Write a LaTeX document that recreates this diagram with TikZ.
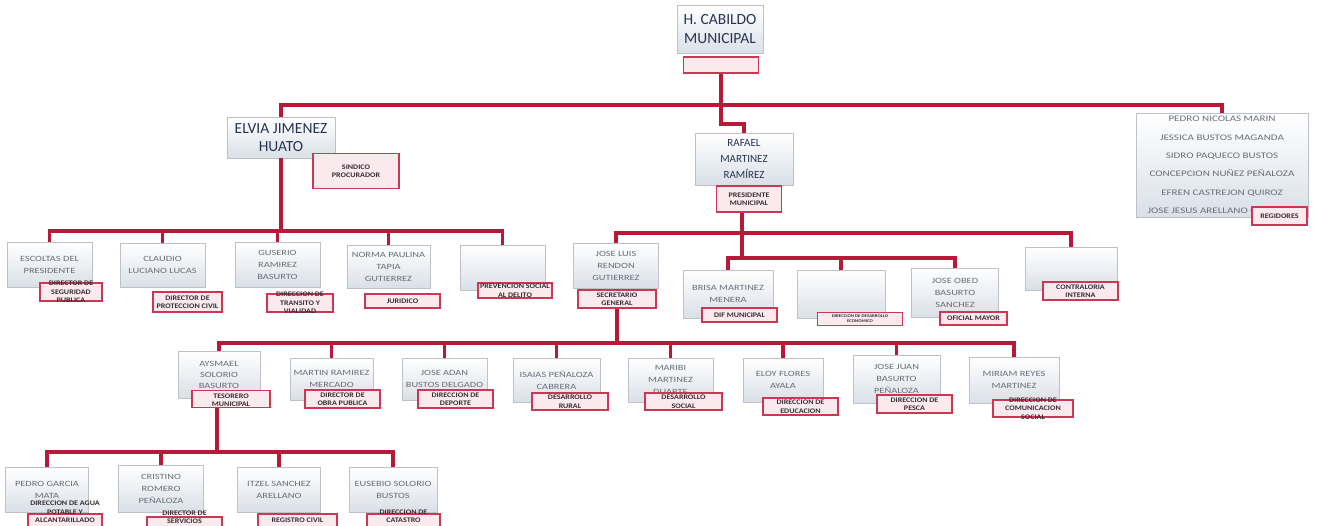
\documentclass[tikz,border=0pt]{standalone}
\usepackage{fontspec}
\setmainfont{Carlito}
\newfontfamily\widefont[FakeStretch=1.3]{Carlito}
\newfontfamily\pinkfont[FakeStretch=1.15]{Carlito}
\definecolor{lnred}{RGB}{182,26,56}
\definecolor{pkborder}{RGB}{205,55,85}
\definecolor{pkfill}{RGB}{250,234,238}
\definecolor{pktext}{RGB}{55,45,50}
\definecolor{txgray}{RGB}{105,110,120}
\definecolor{navy}{RGB}{40,52,85}
\definecolor{boxedge}{RGB}{190,193,200}
\definecolor{boxbot}{RGB}{218,224,232}
\tikzset{
  wbox/.style={draw=boxedge, line width=0.7pt, top color=white, bottom color=boxbot,
    inner sep=0pt, align=center, text=txgray, font=\widefont\fontsize{8}{12}\selectfont},
  bigbox/.style={wbox, text=navy, font=\fontsize{15.5}{18.5}\selectfont},
  midbox/.style={wbox, text=navy, font=\fontsize{11}{16}\selectfont},
  regbox/.style={wbox, font=\widefont\fontsize{8.5}{18.3}\selectfont},
  pbox/.style={draw=pkborder, line width=1.3pt, fill=pkfill, inner sep=0pt},
  ptext/.style={align=center, text=pktext, inner sep=0pt,
    font=\pinkfont\bfseries\fontsize{7}{8.5}\selectfont},
  conn/.style={draw=lnred, line width=3.2pt}
}
\begin{document}
\begin{tikzpicture}[x=1pt,y=-1pt]
\useasboundingbox[fill=white] (0,0) rectangle (1325,526);

% ---- top level
\node[bigbox, minimum width=86, minimum height=48] (cab) at (720,29) {H. CABILDO\\MUNICIPAL};
\node[pbox, minimum width=75, minimum height=16] (pcab) at (721,65) {};

\node[bigbox, minimum width=108, minimum height=41] (elvia) at (281,137.5) {ELVIA JIMENEZ\\HUATO};
\node[pbox, minimum width=86, minimum height=35, label={[ptext]center:{SINDICO\\PROCURADOR}}] (pelv) at (356,171) {};

\node[midbox, minimum width=98, minimum height=52] (raf) at (744,159) {RAFAEL\\MARTINEZ\\RAMÍREZ};
\node[pbox, minimum width=65, minimum height=26, label={[ptext]center:{PRESIDENTE\\MUNICIPAL}}] (praf) at (749,199) {};

\node[regbox, minimum width=172, minimum height=104] (reg) at (1222,165) {PEDRO NICOLAS MARIN\\JESSICA BUSTOS MAGANDA\\SIDRO PAQUECO BUSTOS\\CONCEPCION NUÑEZ PEÑALOZA\\EFREN CASTREJON QUIROZ\\JOSE JESUS ARELLANO CARDONA};
\node[pbox, minimum width=55, minimum height=18, label={[ptext]center:{REGIDORES}}] (preg) at (1279.5,216) {};

% ---- row 2 left (sindico)
\node[wbox, minimum width=85, minimum height=45] (esc) at (49.5,264.5) {ESCOLTAS DEL\\PRESIDENTE};
\node[pbox, minimum width=62, minimum height=18, label={[ptext]center:{DIRECTOR DE\\SEGURIDAD\\PUBLICA}}] (pesc) at (71,292) {};
\node[wbox, minimum width=85, minimum height=44] (cla) at (162.5,265) {CLAUDIO\\LUCIANO LUCAS};
\node[pbox, minimum width=69, minimum height=20, label={[ptext]center:{DIRECTOR DE\\PROTECCION CIVIL}}] (pcla) at (187.5,302) {};
\node[wbox, minimum width=85, minimum height=45] (gus) at (277.5,264.5) {GUSERIO\\RAMIREZ\\BASURTO};
\node[pbox, minimum width=66, minimum height=18, label={[ptext]center:{DIRECCION DE\\TRANSITO Y\\VIALIDAD}}] (pgus) at (300,303) {};
\node[wbox, minimum width=83, minimum height=43] (nor) at (388.5,266.5) {NORMA PAULINA\\TAPIA\\GUTIERREZ};
\node[pbox, minimum width=75, minimum height=14, label={[ptext]center:{JURIDICO}}] (pnor) at (402.5,301) {};
\node[wbox, minimum width=85, minimum height=45] (emp1) at (502.5,267.5) {};
\node[pbox, minimum width=74, minimum height=15, label={[ptext]center:{PREVENCION SOCIAL\\AL DELITO}}] (pemp1) at (515,290.5) {};

% ---- row 2 right (presidente)
\node[wbox, minimum width=85, minimum height=45] (jlr) at (616,265.5) {JOSE LUIS\\RENDON\\GUTIERREZ};
\node[pbox, minimum width=78, minimum height=18, label={[ptext]center:{SECRETARIO\\GENERAL}}] (pjlr) at (617,299) {};
\node[wbox, minimum width=90, minimum height=48] (bri) at (728,294) {BRISA MARTINEZ\\MENERA};
\node[pbox, minimum width=75, minimum height=14, label={[ptext]center:{DIF MUNICIPAL}}] (pbri) at (739.5,315) {};
\node[wbox, minimum width=88, minimum height=48] (emp2) at (841,294) {};
\node[pbox, minimum width=85, minimum height=13, label={[ptext,font=\pinkfont\bfseries\fontsize{4.2}{5}\selectfont]center:{DIRECCION DE DESARROLLO\\ECONOMICO}}] (pemp2) at (860,319) {};
\node[wbox, minimum width=87, minimum height=49] (obed) at (955,292.5) {JOSE OBED\\BASURTO\\SANCHEZ};
\node[pbox, minimum width=67, minimum height=13, label={[ptext]center:{OFICIAL MAYOR}}] (pobed) at (973.5,318.5) {};
\node[wbox, minimum width=92, minimum height=43] (cont) at (1071,268.5) {};
\node[pbox, minimum width=75, minimum height=18, label={[ptext]center:{CONTRALORIA\\INTERNA}}] (pcont) at (1080.5,291) {};

% ---- row 3
\node[wbox, minimum width=82, minimum height=47, font=\widefont\fontsize{8}{11}\selectfont] (ays) at (219,374.5) {AYSMAEL\\SOLORIO\\BASURTO};
\node[pbox, minimum width=78, minimum height=17, label={[ptext,yshift=-1pt]center:{TESORERO\\MUNICIPAL}}] (pays) at (231,399) {};
\node[wbox, minimum width=83, minimum height=42] (mar) at (331.5,379) {MARTIN RAMIREZ\\MERCADO};
\node[pbox, minimum width=75, minimum height=18, label={[ptext]center:{DIRECTOR DE\\OBRA PUBLICA}}] (pmar) at (342.5,399) {};
\node[wbox, minimum width=85, minimum height=42] (ada) at (444.5,379) {JOSE ADAN\\BUSTOS DELGADO};
\node[pbox, minimum width=75, minimum height=18, label={[ptext]center:{DIRECCION DE\\DEPORTE}}] (pada) at (455.5,399) {};
\node[wbox, minimum width=87, minimum height=44] (isa) at (556.5,380) {ISAIAS PEÑALOZA\\CABRERA};
\node[pbox, minimum width=76, minimum height=17, label={[ptext]center:{DESARROLLO\\RURAL}}] (pisa) at (570,401.5) {};
\node[wbox, minimum width=85, minimum height=44] (mab) at (670.5,380) {MARIBI\\MARTINEZ\\DUARTE};
\node[pbox, minimum width=77, minimum height=17, label={[ptext]center:{DESARROLLO\\SOCIAL}}] (pmab) at (683.5,401.5) {};
\node[wbox, minimum width=80, minimum height=44] (elo) at (783,380) {ELOY FLORES\\AYALA};
\node[pbox, minimum width=75, minimum height=17, label={[ptext]center:{DIRECCION DE\\EDUCACION}}] (pelo) at (800.5,406.5) {};
\node[wbox, minimum width=87, minimum height=48] (jju) at (896.5,379) {JOSE JUAN\\BASURTO\\PEÑALOZA};
\node[pbox, minimum width=75, minimum height=18, label={[ptext]center:{DIRECCION DE\\PESCA}}] (pjju) at (914.5,404) {};
\node[wbox, minimum width=90, minimum height=46] (mir) at (1014,380) {MIRIAM REYES\\MARTINEZ};
\node[pbox, minimum width=80, minimum height=17, label={[ptext]center:{DIRECCION DE\\COMUNICACION\\SOCIAL}}] (pmir) at (1033,408.5) {};

% ---- row 4
\node[wbox, minimum width=83, minimum height=45] (ped) at (47,489.5) {PEDRO GARCIA\\MATA};
\node[pbox, minimum width=74, minimum height=16, label={[ptext,yshift=10pt]center:{DIRECCION DE AGUA\\POTABLE Y\\ALCANTARILLADO}}] (pped) at (65,522) {};
\node[wbox, minimum width=85, minimum height=47] (cri) at (161,488.5) {CRISTINO\\ROMERO\\PEÑALOZA};
\node[pbox, minimum width=75, minimum height=14, label={[ptext,yshift=7pt]center:{DIRECTOR DE\\SERVICIOS}}] (pcri) at (184.5,524) {};
\node[wbox, minimum width=83, minimum height=45] (itz) at (279,489.5) {ITZEL SANCHEZ\\ARELLANO};
\node[pbox, minimum width=79, minimum height=16, label={[ptext,yshift=2pt]center:{REGISTRO CIVIL}}] (pitz) at (297.5,522) {};
\node[wbox, minimum width=88, minimum height=45] (eus) at (393,489.5) {EUSEBIO SOLORIO\\BUSTOS};
\node[pbox, minimum width=73, minimum height=16, label={[ptext,yshift=6pt]center:{DIRECCION DE\\CATASTRO}}] (peus) at (403.5,522) {};

% ---- connectors
\coordinate (j0) at (721,105);
\draw[conn] (pcab.south) -- (j0);
\draw[conn] (elvia.north) |- (j0) -| (reg.north);
\draw[conn] (j0) -- ++(0,19) -| (raf.north);

\coordinate (b2) at (281,231);
\draw[conn] (elvia.south) -- (b2);
\draw[conn] (esc.north) |- (b2);
\draw[conn] (emp1.north) |- (b2);
\draw[conn] (cla.north) -- (cla.north |- b2);
\draw[conn] (gus.north) -- (gus.north |- b2);
\draw[conn] (nor.north) -- (nor.north |- b2);

\coordinate (b3) at (742,233);
\coordinate (b3b) at (742,258);
\draw[conn] (b3 |- praf.south) -- (b3b);
\draw[conn] (jlr.north) |- (b3) -| (cont.north);
\draw[conn] (bri.north) |- (b3b) -| (obed.north);
\draw[conn] (emp2.north) -- (emp2.north |- b3b);

\coordinate (b4) at (617,343);
\draw[conn] (pjlr.south) -- (b4);
\draw[conn] (ays.north) |- (b4) -| (mir.north);
\draw[conn] (mar.north) -- (mar.north |- b4);
\draw[conn] (ada.north) -- (ada.north |- b4);
\draw[conn] (isa.north) -- (isa.north |- b4);
\draw[conn] (mab.north) -- (mab.north |- b4);
\draw[conn] (elo.north) -- (elo.north |- b4);
\draw[conn] (jju.north) -- (jju.north |- b4);

\coordinate (b5) at (217,452);
\draw[conn] (b5 |- pays.south) -- (b5);
\draw[conn] (ped.north) |- (b5) -| (eus.north);
\draw[conn] (cri.north) -- (cri.north |- b5);
\draw[conn] (itz.north) -- (itz.north |- b5);
\end{tikzpicture}
\end{document}
